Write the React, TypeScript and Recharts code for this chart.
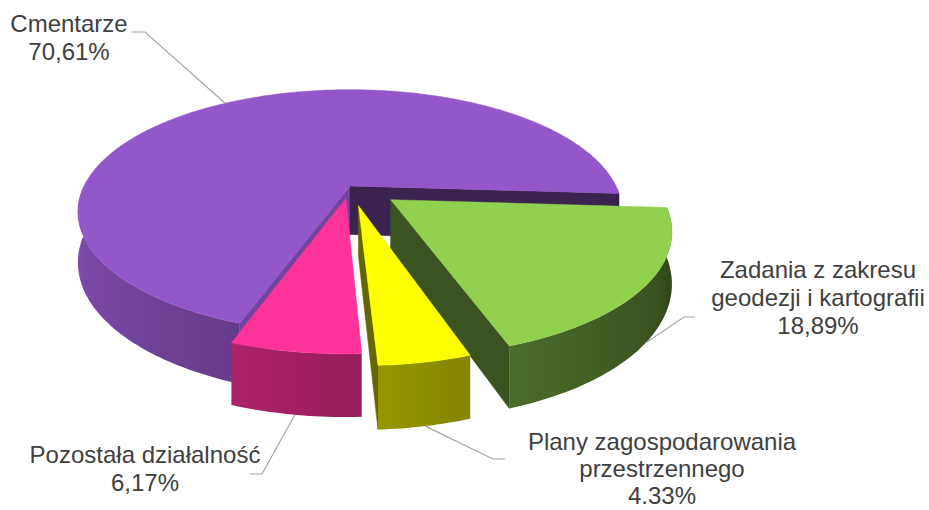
import React from "react";
import { PieChart, Pie } from "recharts";

// udział wydatków (%), kolejność zgodnie z ruchem wskazówek zegara
const categories = ["Cmentarze", "Zadania z zakresu geodezji i kartografii", "Plany zagospodarowania przestrzennego", "Pozostała działalność"];
const shares = [70.61, 18.89, 4.33, 6.17];
const shareLabels = ["70,61%", "18,89%", "4.33%", "6,17%"];
const labelRows = [["Cmentarze"], ["Zadania z zakresu", "geodezji i kartografii"], ["Plany zagospodarowania", "przestrzennego"], ["Pozostała działalność"]];
const topColors = ["#9457c9", "#92d050", "#ffff00", "#ff3399"];
const explode = [0, 50, 44, 28];

// label placement: text center + first baseline + line gap, then the elbow of the leader line
const labelPos = [
  { x: 69, y: 32, gap: 28, elbow: [[145, 32], [132, 32]] },
  { x: 818, y: 278, gap: 28, elbow: [[684, 317], [695, 317]] },
  { x: 662, y: 450, gap: 27, elbow: [[493, 459], [505, 459]] },
  { x: 145, y: 463, gap: 28, elbow: [[262, 474], [250, 474]] },
];

const data = categories.map((name, i) => ({ name, value: shares[i] }));

const RAD = Math.PI / 180;
const TILT = 26 * RAD;
const FOCAL = 1134;
const THICK = 54;

function project(cx: number, cy: number, X: number, Z: number, H: number) {
  const p = FOCAL / (FOCAL + Z * Math.cos(TILT));
  return [cx + X * p, cy - Z * Math.sin(TILT) * p - H * Math.cos(TILT) * p];
}

function shade(hex: string, f: number) {
  const n = parseInt(hex.slice(1), 16);
  const c = [(n >> 16) & 255, (n >> 8) & 255, n & 255].map((v) => Math.max(0, Math.min(255, Math.round(v * f))));
  return `rgb(${c[0]},${c[1]},${c[2]})`;
}

const pts = (a: number[][]) => a.map((q) => q[0].toFixed(1) + "," + q[1].toFixed(1)).join(" ");

function Slice3D(props: any) {
  const { cx, cy, outerRadius: r, startAngle, endAngle, midAngle, index } = props;
  const base = topColors[index];
  const e = explode[index];
  const ox = e * Math.cos(midAngle * RAD);
  const oz = e * Math.sin(midAngle * RAD);
  const pt = (deg: number, rr: number, H: number) =>
    project(cx, cy, ox + rr * Math.cos(deg * RAD), oz + rr * Math.sin(deg * RAD), H);

  const steps = Math.max(2, Math.ceil(Math.abs(endAngle - startAngle)));
  const angles: number[] = [];
  for (let i = 0; i <= steps; i++) angles.push(startAngle + ((endAngle - startAngle) * i) / steps);

  const walls: React.ReactNode[] = [];
  const defs: React.ReactNode[] = [];
  // radial walls
  if (Math.sin((startAngle + 90) * RAD) < 0) {
    const poly = [pt(0, 0, 0), pt(startAngle, r, 0), pt(startAngle, r, -THICK), pt(0, 0, -THICK)];
    walls.push(<polygon key="s" points={pts(poly)} fill={shade(base, 0.78)} stroke={shade(base, 0.78)} strokeWidth={0.5} />);
  }
  if (Math.sin((endAngle - 90) * RAD) < 0) {
    const poly = [pt(0, 0, 0), pt(endAngle, r, 0), pt(endAngle, r, -THICK), pt(0, 0, -THICK)];
    walls.push(<polygon key="e" points={pts(poly)} fill={shade(base, 0.4)} stroke={shade(base, 0.4)} strokeWidth={0.5} />);
  }
  // outer curved wall: front-facing runs, each one path with a horizontal gradient
  const runs: number[][] = [];
  let cur: number[] | null = null;
  angles.forEach((a) => {
    if (Math.sin(a * RAD) < 0.001) {
      if (!cur) { cur = []; runs.push(cur); }
      cur.push(a);
    } else cur = null;
  });
  runs.forEach((run, k) => {
    if (run.length < 2) return;
    const topPts = run.map((a) => pt(a, r, 0));
    const botPts = run.map((a) => pt(a, r, -THICK)).reverse();
    const xs = topPts.map((q) => q[0]);
    const x1 = Math.min(...xs);
    const x2 = Math.max(...xs);
    const stops = run
      .map((a, i) => ({ o: x2 > x1 ? (xs[i] - x1) / (x2 - x1) : 0, c: shade(base, 0.6 - 0.25 * Math.cos(a * RAD)) }))
      .sort((p, q) => p.o - q.o);
    const id = `wall-${index}-${k}`;
    defs.push(
      <linearGradient key={id} id={id} gradientUnits="userSpaceOnUse" x1={x1} y1={0} x2={x2} y2={0}>
        {stops.filter((_, i) => i % 4 === 0 || i === stops.length - 1).map((s, i) => (
          <stop key={i} offset={s.o} stopColor={s.c} />
        ))}
      </linearGradient>
    );
    walls.push(<polygon key={"o" + k} points={pts([...topPts, ...botPts])} fill={`url(#${id})`} />);
  });
  const top = [pt(0, 0, 0), ...angles.map((a) => pt(a, r, 0))];
  return (
    <g>
      <defs>{defs}</defs>
      {walls}
      <polygon points={pts(top)} fill={base} stroke={base} strokeWidth={0.5} />
    </g>
  );
}

function renderLabel(props: any) {
  const { cx, cy, outerRadius: r, midAngle, index } = props;
  const e = explode[index];
  const ox = e * Math.cos(midAngle * RAD);
  const oz = e * Math.sin(midAngle * RAD);
  const H = Math.sin(midAngle * RAD) < 0 ? -THICK : 0;
  const start = project(cx, cy, ox + r * Math.cos(midAngle * RAD), oz + r * Math.sin(midAngle * RAD), H);
  const lp = labelPos[index];
  const line = [start, ...lp.elbow];
  const rows = [...labelRows[index], shareLabels[index]];
  return (
    <g key={"lbl" + index}>
      <polyline points={pts(line)} fill="none" stroke="#a6a6a6" strokeWidth={1.2} />
      <text x={lp.x} y={lp.y} textAnchor="middle" fontSize={24} fill="#404040" fontFamily="'Liberation Sans', Arial, sans-serif">
        {rows.map((t, i) => (
          <tspan key={i} x={lp.x} dy={i === 0 ? 0 : lp.gap}>
            {t}
          </tspan>
        ))}
      </text>
    </g>
  );
}

export default function App() {
  return (
    <div style={{ position: "absolute", left: 0, top: 0, background: "#fff" }}>
      <PieChart width={929} height={510} margin={{ top: 0, right: 0, bottom: 0, left: 0 }}>
        <Pie
          data={data}
          dataKey="value"
          nameKey="name"
          cx={350}
          cy={186}
          outerRadius={266}
          startAngle={-109.4}
          endAngle={-469.4}
          stroke="none"
          isAnimationActive={false}
          shape={Slice3D}
          activeShape={Slice3D}
          inactiveShape={Slice3D}
          label={renderLabel}
          labelLine={false}
        />
      </PieChart>
    </div>
  );
}
